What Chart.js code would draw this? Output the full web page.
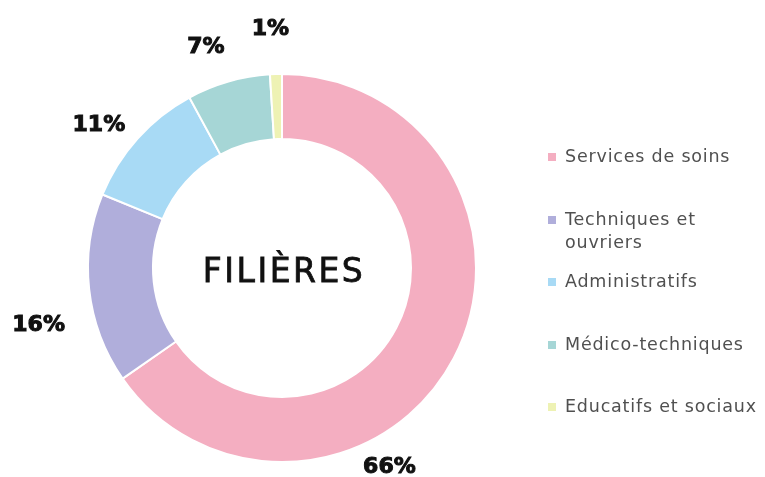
<!DOCTYPE html>
<html>
<head>
<meta charset="utf-8">
<script src="https://cdn.jsdelivr.net/npm/chart.js@4.4.1/dist/chart.umd.min.js"></script>
<style>
    html, body { margin: 0; padding: 0; background: #fff; }
    #wrap { position: relative; width: 765px; height: 477px; }
    #chart { position: absolute; left: 0; top: 0; }
    #legend {
        position: absolute; left: 548px; top: 145px;
        font-family: "DejaVu Sans", sans-serif; font-size: 17.5px; letter-spacing: 0.8px; color: #505050;
        white-space: nowrap;
    }
    .item { position: relative; height: 62.5px; line-height: 23px; padding-left: 17px; }
    .box { position: absolute; left: 0; top: 8px; width: 8px; height: 8px; }
</style>
</head>
<body>
<div id="wrap">
    <canvas id="chart" width="765" height="477"></canvas>
    <div id="legend"></div>
</div>
<script>
    // Data
    const categories = ['Services de soins', ['Techniques et', 'ouvriers'], 'Administratifs', 'Médico-techniques', 'Educatifs et sociaux'];
    const shares = [66, 16, 11, 7, 1];
    const colors = ['#f4aec1', '#b0aedb', '#a8daf5', '#a6d6d6', '#eef2b4'];

    // Where each % label sits relative to its slice (degrees, px past outer edge)
    const labelAngleShift = [34, -7, -4, -3, -1];
    const labelGap = [32, 56, 38, 39, 45];

    const centerText = {
        id: 'centerText',
        afterDatasetsDraw(chart) {
            const arc = chart.getDatasetMeta(0).data[0];
            const c = chart.ctx;
            c.save();
            c.font = '33px "DejaVu Sans", sans-serif';
            c.letterSpacing = '2.5px';
            c.fillStyle = '#111';
            c.strokeStyle = '#111';
            c.lineWidth = 0.8;
            c.textAlign = 'center';
            c.textBaseline = 'middle';
            c.fillText('FILIÈRES', arc.x + 2, arc.y + 5);
            c.strokeText('FILIÈRES', arc.x + 2, arc.y + 5);
            c.restore();
        }
    };

    const pctLabels = {
        id: 'pctLabels',
        afterDatasetsDraw(chart) {
            const c = chart.ctx;
            const meta = chart.getDatasetMeta(0);
            c.save();
            c.font = 'bold 22px "DejaVu Sans", sans-serif';
            c.fillStyle = '#111';
            c.strokeStyle = '#111';
            c.lineWidth = 1;
            c.textAlign = 'center';
            c.textBaseline = 'middle';
            meta.data.forEach((arc, i) => {
                const mid = (arc.startAngle + arc.endAngle) / 2 + labelAngleShift[i] * Math.PI / 180;
                const r = arc.outerRadius + labelGap[i];
                const x = arc.x + Math.cos(mid) * r;
                const y = arc.y + Math.sin(mid) * r;
                c.fillText(shares[i] + '%', x, y);
                c.strokeText(shares[i] + '%', x, y);
            });
            c.restore();
        }
    };

    const chart = new Chart(document.getElementById('chart'), {
        type: 'doughnut',
        data: {
            labels: categories,
            datasets: [{
                data: shares,
                backgroundColor: colors,
                borderColor: '#fff',
                borderWidth: 2,
                hoverOffset: 0
            }]
        },
        options: {
            responsive: false,
            animation: false,
            cutout: '66.5%',
            layout: { padding: { left: 87, right: 288, top: 73, bottom: 14 } },
            plugins: {
                legend: { display: false },
                tooltip: { enabled: false }
            }
        },
        plugins: [centerText, pctLabels]
    });

    // HTML legend built from the same arrays
    const legend = document.getElementById('legend');
    categories.forEach((label, i) => {
        const row = document.createElement('div');
        row.className = 'item';
        const text = Array.isArray(label) ? label.join('<br>') : label;
        row.innerHTML = '<span class="box" style="background:' + colors[i] + '"></span>' + text;
        legend.appendChild(row);
    });
</script>
</body>
</html>
